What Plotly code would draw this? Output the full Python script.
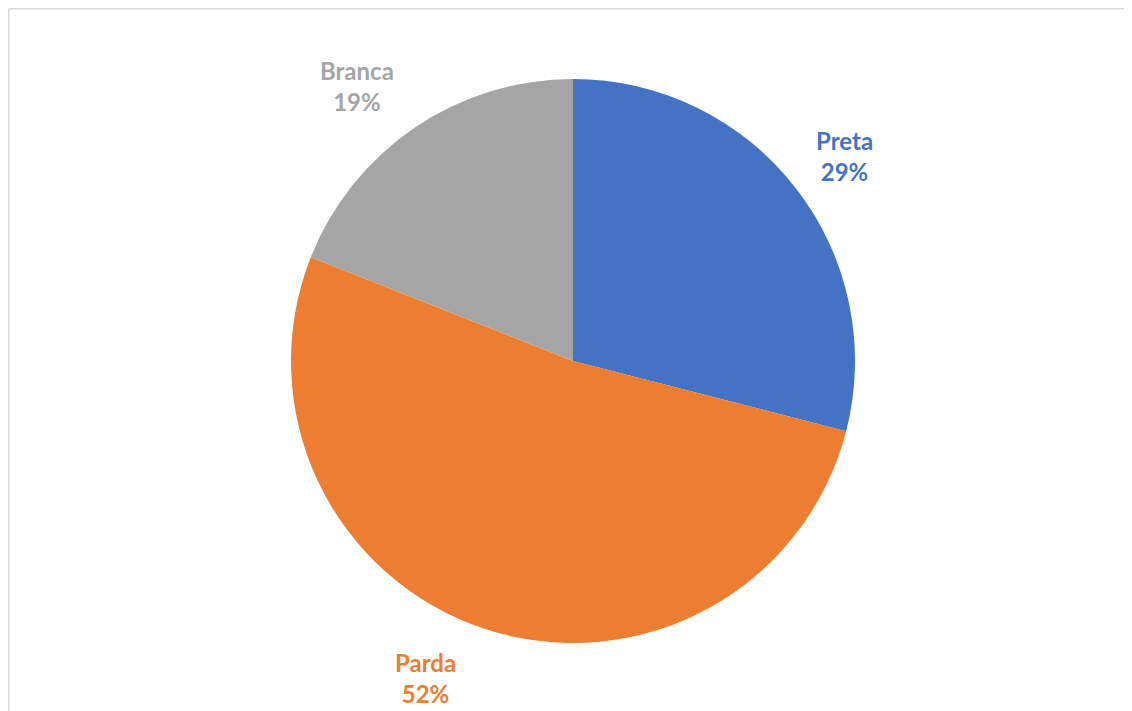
import math
import plotly.graph_objects as go

# ---- data ----
labels = ["Preta", "Parda", "Branca"]
values = [29, 52, 19]
colors = ["#4472C4", "#ED7D31", "#A5A5A5"]

OFF = 8  # page body margin
W, H = 1132, 711
cx, cy, R = 573 - OFF, 361 - OFF, 282  # pie center / radius in px

fig = go.Figure()
fig.add_trace(go.Pie(
    labels=labels, values=values, sort=False, direction="clockwise", rotation=0,
    marker=dict(colors=colors, line=dict(width=0)),
    textinfo="none", hoverinfo="label+percent", showlegend=False,
    domain=dict(x=[(cx - R) / W, (cx + R) / W], y=[1 - (cy + R) / H, 1 - (cy - R) / H]),
))

# label positions derived from slice mid-angles
total = sum(values)
nudges = {"Preta": (2, 4), "Parda": (-42, -7), "Branca": (-24, 7)}
cum = 0
annotations = []
for lab, v, c in zip(labels, values, colors):
    mid = (cum + v / 2) / total * 2 * math.pi
    cum += v
    r = 341
    px = cx + r * math.sin(mid) + nudges[lab][0]
    py = cy - r * math.cos(mid) + nudges[lab][1]
    pct = round(v / total * 100)
    annotations.append(dict(
        x=px / W, y=1 - py / H, xref="paper", yref="paper", showarrow=False,
        text=f"<b>{lab}</b><br><b>{pct}%</b>", align="center",
        font=dict(family="Lato, 'Open Sans', sans-serif", size=24, color=c),
        xanchor="center", yanchor="middle",
    ))

border = dict(color="#D9D9D9", width=1.5)
fig.update_layout(
    width=W, height=H, autosize=False,
    margin=dict(l=0, r=0, t=0, b=0),
    paper_bgcolor="white", plot_bgcolor="white",
    annotations=annotations,
    shapes=[
        dict(type="line", xref="paper", yref="paper",
             x0=0.75 / W, x1=1, y0=1 - 0.75 / H, y1=1 - 0.75 / H, line=border),
        dict(type="line", xref="paper", yref="paper",
             x0=0.75 / W, x1=0.75 / W, y0=0, y1=1 - 0.75 / H, line=border),
    ],
)

fig.write_html("out.html")
